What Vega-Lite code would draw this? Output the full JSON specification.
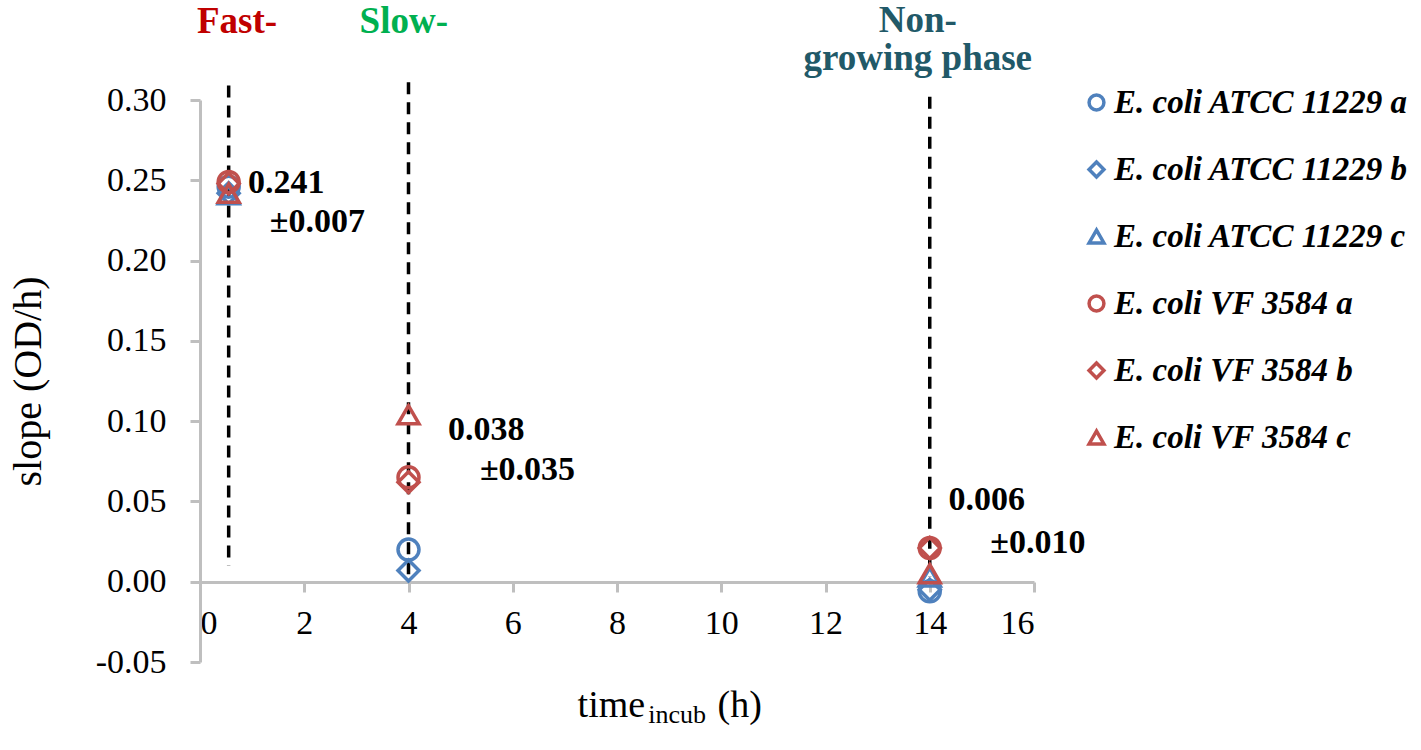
{
  "$schema": "https://vega.github.io/schema/vega-lite/v6.json",
  "autosize": {"type": "none"},
  "padding": {"left": 200, "top": 100, "right": 387, "bottom": 88},
  "width": 834,
  "height": 562,
  "background": "white",
  "config": {
    "view": {"stroke": null},
    "font": "Liberation Serif",
    "axis": {
      "grid": false,
      "domainColor": "#BFBFBF",
      "domainWidth": 3,
      "tickColor": "#BFBFBF",
      "tickWidth": 3,
      "tickSize": 10,
      "labelFont": "Liberation Serif",
      "labelFontSize": 34,
      "labelColor": "black",
      "titleFont": "Liberation Serif",
      "titleFontWeight": "normal",
      "titleColor": "black"
    }
  },
  "layer": [
    {
      "data": {
        "values": [
          {"t": 0.55, "top": 0.309, "bottom": 0.01},
          {"t": 4, "top": 0.311, "bottom": 0.004},
          {"t": 14, "top": 0.302, "bottom": 0.003}
        ]
      },
      "mark": {"type": "rule", "color": "black", "strokeWidth": 3.5, "strokeDash": [12, 8]},
      "encoding": {
        "x": {"field": "t", "type": "quantitative"},
        "y": {"field": "top", "type": "quantitative"},
        "y2": {"field": "bottom"}
      }
    },
    {
      "data": {
        "values": [
          {"series": "E. coli ATCC 11229 a", "t": 0.55, "slope": 0.246},
          {"series": "E. coli ATCC 11229 b", "t": 0.55, "slope": 0.242},
          {"series": "E. coli ATCC 11229 c", "t": 0.55, "slope": 0.241},
          {"series": "E. coli ATCC 11229 a", "t": 4, "slope": 0.020},
          {"series": "E. coli ATCC 11229 b", "t": 4, "slope": 0.007},
          {"series": "E. coli ATCC 11229 a", "t": 14, "slope": -0.006},
          {"series": "E. coli ATCC 11229 b", "t": 14, "slope": -0.005},
          {"series": "E. coli ATCC 11229 c", "t": 14, "slope": 0.003},
          {"series": "E. coli VF 3584 a", "t": 0.55, "slope": 0.249},
          {"series": "E. coli VF 3584 b", "t": 0.55, "slope": 0.248},
          {"series": "E. coli VF 3584 c", "t": 0.55, "slope": 0.242},
          {"series": "E. coli VF 3584 a", "t": 4, "slope": 0.065},
          {"series": "E. coli VF 3584 b", "t": 4, "slope": 0.062},
          {"series": "E. coli VF 3584 c", "t": 4, "slope": 0.104},
          {"series": "E. coli VF 3584 a", "t": 14, "slope": 0.021},
          {"series": "E. coli VF 3584 b", "t": 14, "slope": 0.021},
          {"series": "E. coli VF 3584 c", "t": 14, "slope": 0.005}
        ]
      },
      "mark": {"type": "point", "filled": false, "strokeWidth": 3.5, "size": 440, "opacity": 1},
      "encoding": {
        "x": {
          "field": "t",
          "type": "quantitative",
          "scale": {"domain": [0, 16], "nice": false},
          "axis": {
            "values": [0, 2, 4, 6, 8, 10, 12, 14, 16],
            "offset": -80,
            "labelPadding": 14,
            "title": null
          }
        },
        "y": {
          "field": "slope",
          "type": "quantitative",
          "scale": {"domain": [-0.05, 0.30], "nice": false, "zero": false},
          "axis": {
            "values": [-0.05, 0, 0.05, 0.1, 0.15, 0.2, 0.25, 0.3],
            "labelExpr": "datum.value < 0 ? '-' + format(-datum.value, '.2f') : format(datum.value, '.2f')",
            "labelPadding": 24,
            "title": "slope (OD/h)",
            "titleFontSize": 40,
            "titleX": -172,
            "titleBaseline": "middle"
          }
        },
        "color": {
          "field": "series",
          "type": "nominal",
          "scale": {
            "domain": ["E. coli ATCC 11229 a", "E. coli ATCC 11229 b", "E. coli ATCC 11229 c", "E. coli VF 3584 a", "E. coli VF 3584 b", "E. coli VF 3584 c"],
            "range": ["#4F81BD", "#4F81BD", "#4F81BD", "#C0504D", "#C0504D", "#C0504D"]
          },
          "legend": {
            "title": null,
            "orient": "none",
            "legendX": 880,
            "legendY": -14,
            "padding": 0,
            "rowPadding": 33,
            "labelFont": "Liberation Serif",
            "labelFontSize": 33,
            "labelFontStyle": "italic",
            "labelFontWeight": "bold",
            "labelColor": "black",
            "labelLimit": 400,
            "labelOffset": 1,
            "symbolSize": 220,
            "symbolStrokeWidth": 3.5
          }
        },
        "shape": {
          "field": "series",
          "type": "nominal",
          "scale": {
            "domain": ["E. coli ATCC 11229 a", "E. coli ATCC 11229 b", "E. coli ATCC 11229 c", "E. coli VF 3584 a", "E. coli VF 3584 b", "E. coli VF 3584 c"],
            "range": ["circle", "diamond", "triangle-up", "circle", "diamond", "triangle-up"]
          },
          "legend": {"title": null}
        }
      }
    },
    {
      "data": {
        "values": [
          {"label": "0.241", "t": 0.92, "y": 0.2421},
          {"label": "±0.007", "t": 1.34, "y": 0.2178},
          {"label": "0.038", "t": 4.76, "y": 0.0882},
          {"label": "±0.035", "t": 5.37, "y": 0.0633},
          {"label": "0.006", "t": 14.36, "y": 0.0446},
          {"label": "±0.010", "t": 15.16, "y": 0.0178}
        ]
      },
      "mark": {"type": "text", "align": "left", "baseline": "alphabetic", "font": "Liberation Serif", "fontSize": 34, "fontWeight": "bold", "color": "black"},
      "encoding": {
        "x": {"field": "t", "type": "quantitative"},
        "y": {"field": "y", "type": "quantitative"},
        "text": {"field": "label"}
      }
    },
    {
      "data": {
        "values": [
          {"phase": "Fast-", "t": 0.71, "y": 0.3417},
          {"phase": "Slow-", "t": 3.91, "y": 0.3417}
        ]
      },
      "mark": {"type": "text", "align": "center", "baseline": "alphabetic", "font": "Liberation Serif", "fontSize": 37, "fontWeight": "bold"},
      "encoding": {
        "x": {"field": "t", "type": "quantitative"},
        "y": {"field": "y", "type": "quantitative"},
        "text": {"field": "phase"},
        "fill": {
          "field": "phase",
          "type": "nominal",
          "scale": {"domain": ["Fast-", "Slow-"], "range": ["#C00000", "#00B050"]},
          "legend": null
        }
      }
    },
    {
      "data": {"values": [{"t": 13.77, "y": 0.3425}]},
      "mark": {"type": "text", "align": "center", "baseline": "alphabetic", "font": "Liberation Serif", "fontSize": 37, "fontWeight": "bold", "color": "#215968", "lineHeight": 38},
      "encoding": {
        "x": {"field": "t", "type": "quantitative"},
        "y": {"field": "y", "type": "quantitative"},
        "text": {"value": ["Non-", "growing phase"]}
      }
    },
    {
      "data": {"values": [{"part": "time", "t": 8.54, "y": -0.0841}]},
      "mark": {"type": "text", "align": "right", "baseline": "alphabetic", "font": "Liberation Serif", "fontSize": 38, "color": "black"},
      "encoding": {
        "x": {"field": "t", "type": "quantitative"},
        "y": {"field": "y", "type": "quantitative"},
        "text": {"field": "part"}
      }
    },
    {
      "data": {"values": [{"part": "incub", "t": 8.6, "y": -0.0878}]},
      "mark": {"type": "text", "align": "left", "baseline": "alphabetic", "font": "Liberation Serif", "fontSize": 26, "color": "black"},
      "encoding": {
        "x": {"field": "t", "type": "quantitative"},
        "y": {"field": "y", "type": "quantitative"},
        "text": {"field": "part"}
      }
    },
    {
      "data": {"values": [{"part": "(h)", "t": 9.93, "y": -0.0841}]},
      "mark": {"type": "text", "align": "left", "baseline": "alphabetic", "font": "Liberation Serif", "fontSize": 38, "color": "black"},
      "encoding": {
        "x": {"field": "t", "type": "quantitative"},
        "y": {"field": "y", "type": "quantitative"},
        "text": {"field": "part"}
      }
    }
  ]
}
